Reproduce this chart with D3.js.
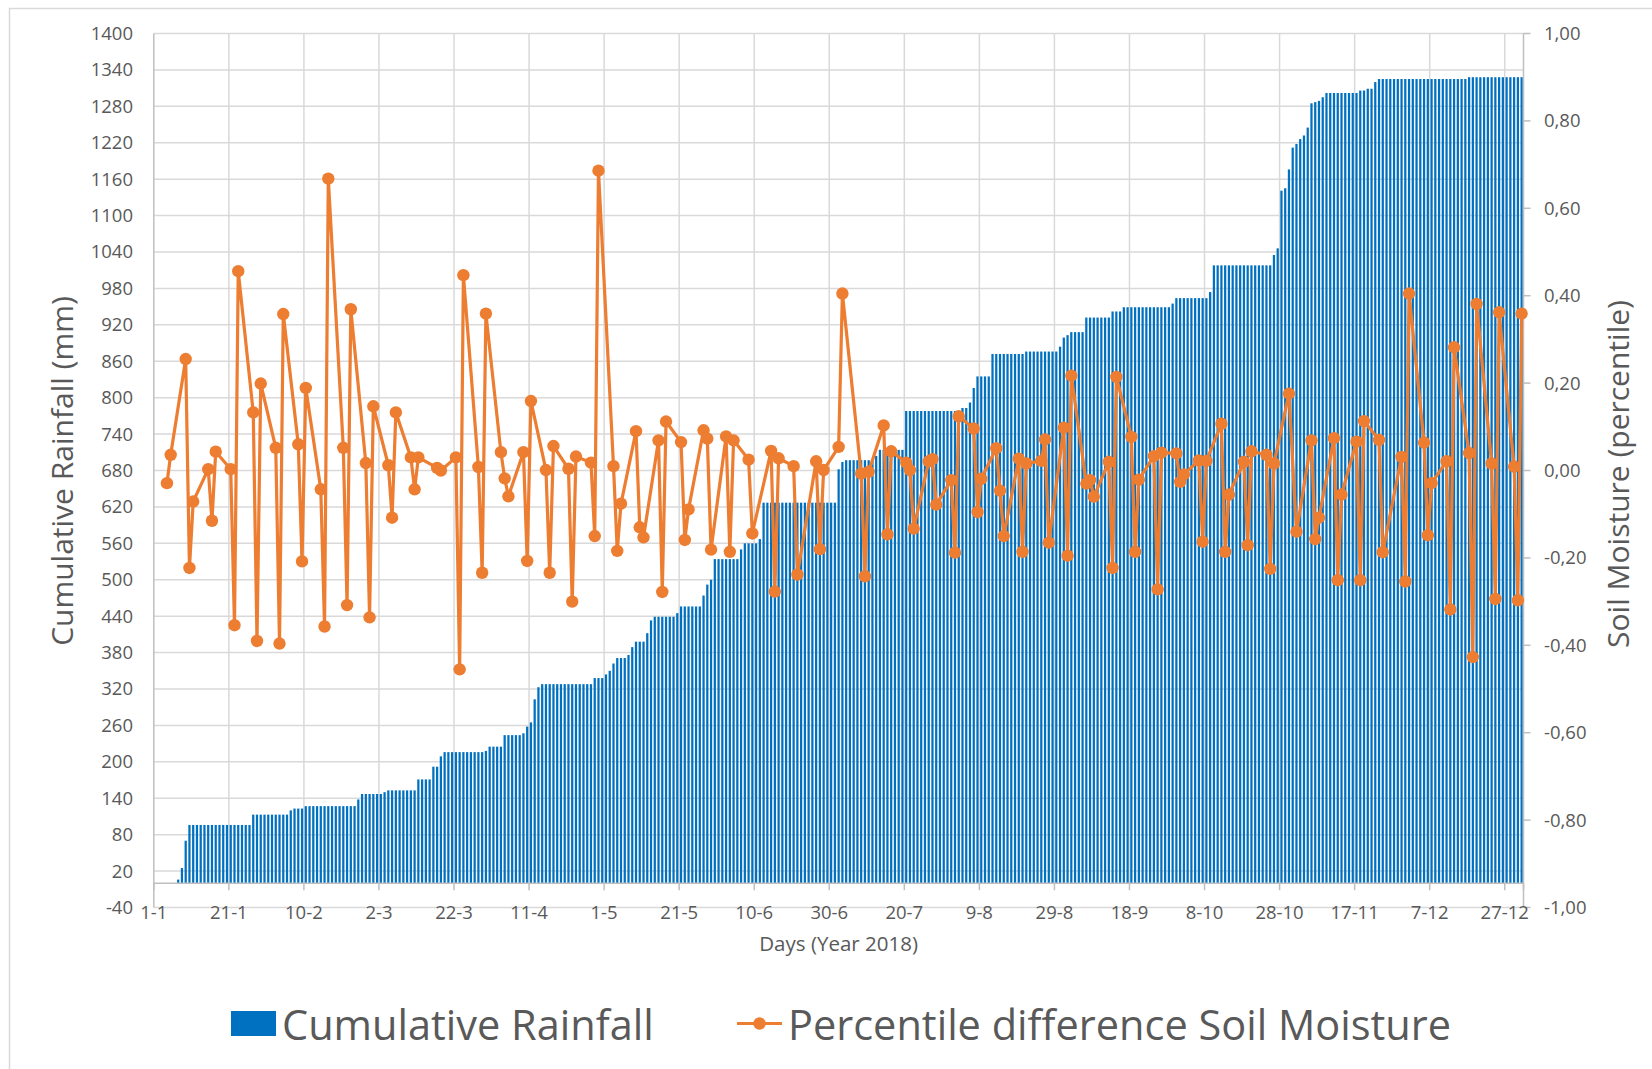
<!DOCTYPE html>
<html>
<head>
<meta charset="utf-8">
<script src="https://cdn.jsdelivr.net/npm/d3@7"></script>
<style>
  html, body { margin: 0; padding: 0; background: #ffffff; }
  svg { display: block; font-family: "Open Sans", "Liberation Sans", sans-serif; }
</style>
</head>
<body>
<svg id="chart" width="1652" height="1069"></svg>
<script>
// Cumulative rainfall (mm), one value per day of 2018 (index 0 = 1 January)
const cumulativeRainfall = [
  0,0,0,0,0,0,6,25,70,96,96,96,96,96,96,96,96,96,96,96,
  96,96,96,96,96,96,113,113,113,113,113,113,113,113,113,113,120,123,123,123,
  127,127,127,127,127,127,127,127,127,127,127,127,127,127,138,147,147,147,147,147,
  147,150,153,153,153,153,153,153,153,153,171,171,171,171,192,192,209,216,216,216,
  216,216,216,216,216,216,216,216,218,225,225,225,225,244,244,244,244,244,247,258,
  265,303,323,328,328,328,328,328,328,328,328,328,328,328,328,328,328,338,338,338,
  344,350,362,371,371,371,376,389,398,398,398,412,433,439,439,439,439,439,439,445,
  456,456,456,456,456,456,474,492,500,534,534,534,534,534,534,534,550,560,560,560,
  560,567,627,627,627,627,627,627,627,627,627,627,627,627,627,627,627,627,627,627,
  627,627,682,694,697,697,697,697,697,697,697,697,704,714,714,714,714,714,714,714,
  778,778,778,778,778,778,778,778,778,778,778,778,778,778,778,783,783,792,816,835,
  835,835,835,872,872,872,872,872,872,872,872,872,876,876,876,876,876,876,876,876,
  876,884,899,903,908,908,908,908,932,932,932,932,932,932,932,942,942,942,949,949,
  949,949,949,949,949,949,949,949,949,949,949,955,964,964,964,964,964,964,964,964,
  964,974,1018,1018,1018,1018,1018,1018,1018,1018,1018,1018,1018,1018,1018,1018,1018,1018,1035,1046,
  1141,1145,1176,1212,1218,1226,1232,1245,1285,1287,1289,1295,1302,1302,1302,1302,1302,1302,1302,1302,
  1302,1306,1306,1309,1309,1320,1325,1325,1325,1325,1325,1325,1325,1325,1325,1325,1325,1325,1325,1325,
  1325,1325,1325,1325,1325,1325,1325,1325,1325,1325,1328,1328,1328,1328,1328,1328,1328,1328,1328,1328,
  1328,1328,1328,1328,1328
];

// Days (index into the year) on which soil moisture was observed
const soilDayIndex = [
  3,4, 8,9,10, 14,15,16, 20,21,22, 26,27,28, 32,33,34, 38,39,40, 44,45,46,
  50,51,52, 56,57,58, 62,63,64, 68,69,70, 75,76, 80,81,82, 86,87,88, 92,93,94,
  98,99,100, 104,105,106, 110,111,112, 116,117,118, 122,123,124, 128,129,130,
  134,135,136, 140,141,142, 146,147,148, 152,153,154, 158,159, 164,165,166,
  170,171, 176,177,178, 182,183, 188,189,190, 194,195,196, 200,201,202,
  206,207,208, 212,213,214, 218,219,220, 224,225,226, 230,231,232, 236,237,238,
  242,243,244, 248,249,250, 254,255,256, 260,261,262, 266,267,268, 272,273,274,
  278,279,280, 284,285,286, 290,291,292, 296,297,298, 302,304, 308,309,310,
  314,315,316, 320,321,322, 326,327, 332,333,334, 338,339,340, 344,345,346,
  350,351,352, 356,357,358, 362,363,364
];

// Percentile difference of soil moisture on those days
const soilMoisture = [
  -0.029,0.036, 0.255,-0.223,-0.071, 0.003,-0.115,0.043, 0.003,-0.354,0.456,
  0.133,-0.390,0.199, 0.052,-0.396,0.358, 0.060,-0.208,0.189, -0.043,-0.357,0.668,
  0.052,-0.308,0.369, 0.017,-0.336,0.147, 0.012,-0.108,0.133, 0.030,-0.043,0.030,
  0.006,0.000, 0.030,-0.455,0.447, 0.008,-0.234,0.359, 0.042,-0.018,-0.059,
  0.042,-0.207,0.159, 0.001,-0.234,0.056, 0.004,-0.300,0.032, 0.018,-0.150,0.686,
  0.010,-0.184,-0.076, 0.090,-0.130,-0.153, 0.069,-0.278,0.112, 0.065,-0.159,-0.089,
  0.092,0.073,-0.181, 0.078,-0.186,0.069, 0.025,-0.144, 0.045,-0.277,0.028,
  0.010,-0.238, 0.021,-0.180,0.001, 0.054,0.405, -0.007,-0.242,-0.003,
  0.103,-0.146,0.044, 0.018,0.001,-0.133, 0.021,0.026,-0.078, -0.022,-0.188,0.124,
  0.096,-0.095,-0.019, 0.051,-0.046,-0.150, 0.027,-0.186,0.016, 0.022,0.071,-0.165,
  0.098,-0.195,0.217, -0.030,-0.022,-0.060, 0.020,-0.223,0.214, 0.077,-0.186,-0.021,
  0.033,-0.272,0.041, 0.039,-0.026,-0.009, 0.023,-0.163,0.022, 0.107,-0.186,-0.055,
  0.020,-0.171,0.044, 0.036,-0.225,0.016, 0.176,-0.140, 0.069,-0.157,-0.108,
  0.074,-0.251,-0.055, 0.066,-0.251,0.113, 0.070,-0.187, 0.031,-0.254,0.405,
  0.064,-0.148,-0.029, 0.021,-0.318,0.282, 0.040,-0.427,0.381, 0.016,-0.294,0.362,
  0.009,-0.297,0.359
];

// Axis tick values and labels
const rainfallTicks = [-40,20,80,140,200,260,320,380,440,500,560,620,680,740,800,860,920,980,1040,1100,1160,1220,1280,1340,1400];
const moistureTicks = [-1,-0.8,-0.6,-0.4,-0.2,0,0.2,0.4,0.6,0.8,1];
const moistureTickLabels = ["-1,00","-0,80","-0,60","-0,40","-0,20","0,00","0,20","0,40","0,60","0,80","1,00"];
const dayTickIndex = [0,20,40,60,80,100,120,140,160,180,200,220,240,260,280,300,320,340,360];
const dayTickLabels = ["1-1","21-1","10-2","2-3","22-3","11-4","1-5","21-5","10-6","30-6","20-7","9-8","29-8","18-9","8-10","28-10","17-11","7-12","27-12"];

const plot = { left: 153.8, right: 1523.5, top: 33.5, bottom: 907.5 };
const textColor = "#595959";
const gridColor = "#d9d9d9";
const axisColor = "#bfbfbf";
const barColor = "#0070c0";
const lineColor = "#ed7d31";

const svg = d3.select("#chart");

// chart area frame
svg.append("rect")
  .attr("x", 9.5).attr("y", 8.5)
  .attr("width", 1700).attr("height", 1100)
  .attr("fill", "#ffffff").attr("stroke", gridColor).attr("stroke-width", 1.5);

const days = d3.range(cumulativeRainfall.length);
const x = d3.scaleBand().domain(days).range([plot.left, plot.right]).paddingInner(0.4).paddingOuter(0.2);
const dayStart = d => plot.left + d * (plot.right - plot.left) / days.length;
const yL = d3.scaleLinear().domain([-40, 1400]).range([plot.bottom, plot.top]);
const yR = d3.scaleLinear().domain([-1, 1]).range([plot.bottom, plot.top]);

// horizontal gridlines
svg.append("g").selectAll("line").data(rainfallTicks).join("line")
  .attr("x1", plot.left).attr("x2", plot.right)
  .attr("y1", d => yL(d)).attr("y2", d => yL(d))
  .attr("stroke", gridColor).attr("stroke-width", 1.5);

// vertical gridlines every 20 days
svg.append("g").selectAll("line").data(dayTickIndex.slice(1)).join("line")
  .attr("x1", d => dayStart(d)).attr("x2", d => dayStart(d))
  .attr("y1", plot.top).attr("y2", yL(0))
  .attr("stroke", gridColor).attr("stroke-width", 1.5);

// rainfall columns
svg.append("g").selectAll("rect").data(days).join("rect")
  .attr("x", d => x(d))
  .attr("width", x.bandwidth())
  .attr("y", d => yL(cumulativeRainfall[d]))
  .attr("height", d => yL(0) - yL(cumulativeRainfall[d]))
  .attr("fill", barColor);

// category axis at zero rainfall
svg.append("line")
  .attr("x1", plot.left).attr("x2", plot.right)
  .attr("y1", yL(0)).attr("y2", yL(0))
  .attr("stroke", axisColor).attr("stroke-width", 1.5);
svg.append("g").selectAll("line").data(dayTickIndex.concat([days.length])).join("line")
  .attr("x1", d => dayStart(d)).attr("x2", d => dayStart(d))
  .attr("y1", yL(0)).attr("y2", yL(0) + 7)
  .attr("stroke", axisColor).attr("stroke-width", 1.5);

// left and right value axes
svg.append("line")
  .attr("x1", plot.left).attr("x2", plot.left)
  .attr("y1", plot.top).attr("y2", plot.bottom)
  .attr("stroke", axisColor).attr("stroke-width", 1.5);
svg.append("line")
  .attr("x1", plot.right).attr("x2", plot.right)
  .attr("y1", plot.top).attr("y2", plot.bottom)
  .attr("stroke", axisColor).attr("stroke-width", 1.5);
svg.append("g").selectAll("line").data(moistureTicks).join("line")
  .attr("x1", plot.right).attr("x2", plot.right + 7)
  .attr("y1", d => yR(d)).attr("y2", d => yR(d))
  .attr("stroke", axisColor).attr("stroke-width", 1.5);

// tick labels
svg.append("g").selectAll("text").data(rainfallTicks).join("text")
  .attr("x", 133).attr("y", d => yL(d)).attr("dy", "0.35em")
  .attr("text-anchor", "end").attr("font-size", 18.5).attr("fill", textColor)
  .text(d => d);
svg.append("g").selectAll("text").data(moistureTicks).join("text")
  .attr("x", 1544).attr("y", d => yR(d)).attr("dy", "0.35em")
  .attr("text-anchor", "start").attr("font-size", 18.5).attr("fill", textColor)
  .text((d, i) => moistureTickLabels[i]);
svg.append("g").selectAll("text").data(dayTickIndex).join("text")
  .attr("x", d => dayStart(d)).attr("y", 918.5)
  .attr("text-anchor", "middle").attr("font-size", 18.5).attr("fill", textColor)
  .text((d, i) => dayTickLabels[i]);

// axis titles
svg.append("text")
  .attr("transform", "translate(73,471) rotate(-90)")
  .attr("text-anchor", "middle").attr("font-size", 30).attr("fill", textColor)
  .text("Cumulative Rainfall (mm)");
svg.append("text")
  .attr("transform", "translate(1629,474) rotate(-90)")
  .attr("text-anchor", "middle").attr("font-size", 30).attr("fill", textColor)
  .text("Soil Moisture (percentile)");
svg.append("text")
  .attr("x", 838.6).attr("y", 951)
  .attr("text-anchor", "middle").attr("font-size", 20.5).attr("fill", textColor)
  .text("Days (Year 2018)");

// soil moisture line with markers
const soilPoints = soilDayIndex.map((d, i) => [x(d) + x.bandwidth() / 2, yR(soilMoisture[i])]);
svg.append("path")
  .attr("d", d3.line()(soilPoints))
  .attr("fill", "none").attr("stroke", lineColor).attr("stroke-width", 3.2)
  .attr("stroke-linejoin", "round");
svg.append("g").selectAll("circle").data(soilPoints).join("circle")
  .attr("cx", d => d[0]).attr("cy", d => d[1]).attr("r", 6.2)
  .attr("fill", lineColor);

// legend
const legend = svg.append("g");
legend.append("rect").attr("x", 231).attr("y", 1011).attr("width", 45).attr("height", 25).attr("fill", barColor);
legend.append("text").attr("x", 282).attr("y", 1040).attr("font-size", 41.5).attr("fill", textColor)
  .text("Cumulative Rainfall");
legend.append("line").attr("x1", 737).attr("x2", 782).attr("y1", 1023.5).attr("y2", 1023.5)
  .attr("stroke", lineColor).attr("stroke-width", 3.2);
legend.append("circle").attr("cx", 759.5).attr("cy", 1023.5).attr("r", 6.2).attr("fill", lineColor);
legend.append("text").attr("x", 788).attr("y", 1040).attr("font-size", 41.5).attr("fill", textColor)
  .text("Percentile difference Soil Moisture");
</script>
</body>
</html>
